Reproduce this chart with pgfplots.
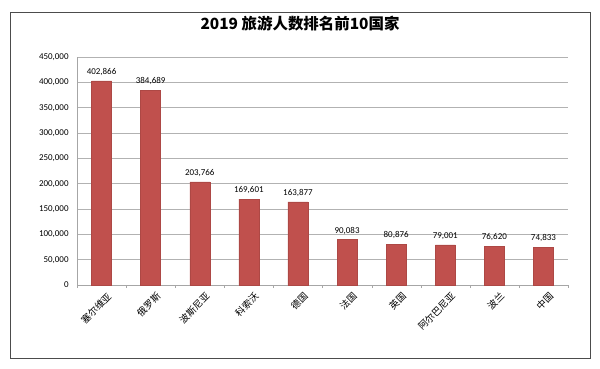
\documentclass[border=0pt]{standalone}
\usepackage{pgfplots}
\pgfplotsset{compat=1.18}
\usepackage{fontspec}
\setmainfont{Carlito}
\newfontfamily\cjk{Noto Sans CJK SC}
\definecolor{barred}{RGB}{192,80,77}
\begin{document}
\begin{tikzpicture}[x=1bp,y=1bp]
\useasboundingbox (0,0) rectangle (600,368);
\draw[black!70, line width=0.8bp] (10,10) rectangle (590,356);
\node[font=\cjk\bfseries\fontsize{15.5}{18}\selectfont] at (300,344) {2019 旅游人数排名前10国家};
\begin{axis}[
  at={(77bp,83bp)}, anchor=south west,
  width=491bp, height=228bp, scale only axis,
  ymin=0, ymax=450000,
  xmin=-0.5, xmax=9.5,
  ytick={0,50000,...,450000},
  scaled y ticks=false,
  yticklabel style={font=\fontsize{9}{10}\selectfont, text=black, inner sep=4bp, /pgf/number format/fixed, /pgf/number format/1000 sep={,}, /pgf/number format/assume math mode=true},
  ymajorgrids, grid style={gray!60, line width=0.6bp},
  axis x line*=bottom, axis y line*=left,
  axis line style={gray!70},
  ytick style={draw=none},
  xtick={0,...,9},
  xticklabels={塞尔维亚,俄罗斯,波斯尼亚,科索沃,德国,法国,英国,阿尔巴尼亚,波兰,中国},
  xticklabel style={font=\cjk\fontsize{9.5}{11}\selectfont, rotate=45, anchor=north east, inner sep=1bp, xshift=3bp, yshift=-4bp},
  major x tick style={draw=none},
  minor xtick={-0.5,0.5,...,9.5},
  minor x tick style={draw=gray!70},
  minor tick length=3bp,
  tick align=outside,
  ybar, bar width=20bp,
  nodes near coords,
  nodes near coords style={font=\fontsize{9}{10}\selectfont, inner sep=5bp, /pgf/number format/fixed, /pgf/number format/1000 sep={,}, /pgf/number format/assume math mode=true},
  clip=false,
]
\addplot[fill=barred, draw=barred!90!black] coordinates {
(0,402866) (1,384689) (2,203766) (3,169601) (4,163877) (5,90083) (6,80876) (7,79001) (8,76620) (9,74833)};
\end{axis}
\end{tikzpicture}
\end{document}
